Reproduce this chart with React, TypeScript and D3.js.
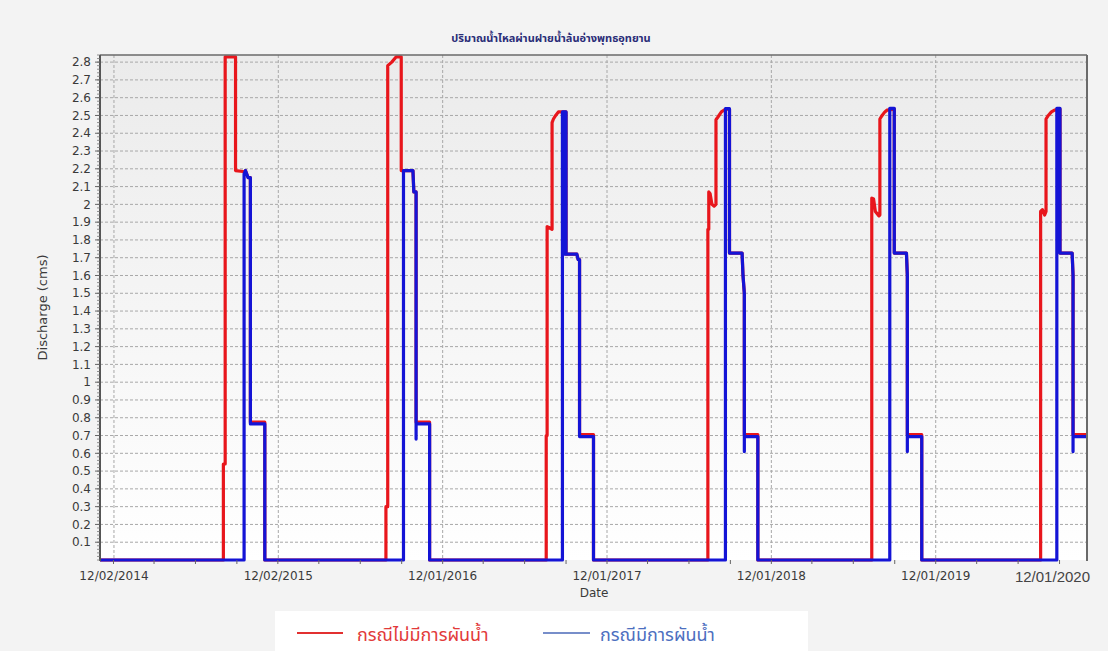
import React from "react";
import * as d3 from "d3";

const W = 1108;
const H = 651;

const titleText = "ปริมาณน้ำไหลผ่านฝายน้ำล้นอ่างพุทธอุทยาน";
const yAxisTitle = "Discharge (cms)";
const xAxisTitle = "Date";
const legendNames = ["กรณีไม่มีการผันน้ำ", "กรณีมีการผันน้ำ"];

const xTickDates = ["2014-12-02", "2015-12-02", "2016-12-01", "2017-12-01", "2018-12-01", "2019-12-01", "2020-12-01"];
const xTickLabels = ["12/02/2014", "12/02/2015", "12/01/2016", "12/01/2017", "12/01/2018", "12/01/2019", "12/01/2020"];
const xDomain = ["2014-11-01", "2020-11-01"];
const yDomain = [0, 2.84];

// Without diversion (red)
const noDiversion: [string, number][] = [
  ["2014-11-01", 0],
  ["2015-08-02", 0], ["2015-08-02", 0.54], ["2015-08-06", 0.54], ["2015-08-06", 2.83], ["2015-08-29", 2.83],
  ["2015-08-29", 2.19], ["2015-09-15", 2.185], ["2015-09-17", 2.18], ["2015-09-20", 2.19], ["2015-09-26", 2.15],
  ["2015-10-01", 2.15], ["2015-10-01", 0.775], ["2015-11-02", 0.775], ["2015-11-02", 0],
  ["2016-07-28", 0], ["2016-07-28", 0.3], ["2016-08-01", 0.3], ["2016-08-01", 2.78], ["2016-08-10", 2.8],
  ["2016-08-20", 2.83], ["2016-08-31", 2.83], ["2016-08-31", 2.19], ["2016-09-26", 2.19], ["2016-09-28", 2.07],
  ["2016-10-03", 2.07], ["2016-10-03", 0.775], ["2016-11-02", 0.775], ["2016-11-02", 0],
  ["2017-07-19", 0], ["2017-07-19", 0.7], ["2017-07-21", 0.7], ["2017-07-21", 1.875], ["2017-07-25", 1.87],
  ["2017-08-01", 1.86], ["2017-08-01", 2.46], ["2017-08-04", 2.48], ["2017-08-09", 2.5], ["2017-08-15", 2.52],
  ["2017-09-01", 2.52], ["2017-09-01", 1.72], ["2017-09-25", 1.72], ["2017-09-28", 1.69], ["2017-10-01", 1.69],
  ["2017-10-01", 0.705], ["2017-11-01", 0.705], ["2017-11-01", 0],
  ["2018-07-13", 0], ["2018-07-13", 1.86], ["2018-07-15", 1.86], ["2018-07-15", 2.07], ["2018-07-18", 2.06],
  ["2018-07-22", 2.0], ["2018-07-27", 1.99], ["2018-07-31", 2.0], ["2018-07-31", 2.476], ["2018-08-04", 2.49],
  ["2018-08-12", 2.52], ["2018-08-21", 2.535], ["2018-08-30", 2.535], ["2018-08-30", 1.726], ["2018-09-27", 1.726],
  ["2018-09-29", 1.6], ["2018-10-02", 1.5], ["2018-10-02", 0.705], ["2018-11-01", 0.705], ["2018-11-01", 0],
  ["2019-07-12", 0], ["2019-07-12", 2.035], ["2019-07-16", 2.03], ["2019-07-20", 1.96], ["2019-07-28", 1.935],
  ["2019-07-30", 1.94], ["2019-07-30", 2.48], ["2019-08-04", 2.5], ["2019-08-10", 2.52], ["2019-08-15", 2.53],
  ["2019-08-31", 2.535], ["2019-08-31", 1.726], ["2019-09-27", 1.726], ["2019-09-29", 1.6], ["2019-09-29", 0.705],
  ["2019-10-31", 0.705], ["2019-10-31", 0],
  ["2020-07-21", 0], ["2020-07-21", 1.96], ["2020-07-25", 1.97], ["2020-07-30", 1.94], ["2020-08-02", 1.96],
  ["2020-08-02", 2.48], ["2020-08-07", 2.5], ["2020-08-14", 2.52], ["2020-08-21", 2.53], ["2020-09-02", 2.535],
  ["2020-09-02", 1.726], ["2020-09-29", 1.726], ["2020-10-01", 1.6], ["2020-10-01", 0.705], ["2020-11-01", 0.705],
];

// With diversion (blue)
const withDiversion: [string, number][] = [
  ["2014-11-01", 0],
  ["2015-09-17", 0], ["2015-09-17", 2.17], ["2015-09-20", 2.19], ["2015-09-26", 2.15], ["2015-10-01", 2.15],
  ["2015-10-01", 0.765], ["2015-11-02", 0.765], ["2015-11-02", 0],
  ["2016-09-05", 0], ["2016-09-05", 2.19], ["2016-09-26", 2.19], ["2016-09-28", 2.07], ["2016-10-03", 2.07],
  ["2016-10-03", 0.68], ["2016-10-03", 0.765], ["2016-11-02", 0.765], ["2016-11-02", 0],
  ["2017-08-24", 0], ["2017-08-24", 2.52], ["2017-08-26", 2.52], ["2017-08-26", 1.72], ["2017-08-27", 1.72],
  ["2017-08-27", 2.52], ["2017-08-29", 2.52], ["2017-08-29", 1.72], ["2017-08-30", 1.72], ["2017-08-30", 2.52],
  ["2017-09-01", 2.52], ["2017-09-01", 1.72], ["2017-09-25", 1.72], ["2017-09-28", 1.69], ["2017-10-01", 1.69],
  ["2017-10-01", 0.694], ["2017-11-01", 0.694], ["2017-11-01", 0],
  ["2018-08-21", 0], ["2018-08-21", 2.538], ["2018-08-30", 2.538], ["2018-08-30", 1.726], ["2018-09-27", 1.726],
  ["2018-09-29", 1.6], ["2018-10-02", 1.5], ["2018-10-02", 0.61], ["2018-10-02", 0.694], ["2018-11-01", 0.694],
  ["2018-11-01", 0],
  ["2019-08-21", 0], ["2019-08-21", 2.54], ["2019-08-31", 2.54], ["2019-08-31", 1.726], ["2019-09-27", 1.726],
  ["2019-09-29", 1.6], ["2019-09-29", 0.61], ["2019-09-29", 0.694], ["2019-10-31", 0.694], ["2019-10-31", 0],
  ["2020-08-26", 0], ["2020-08-26", 2.54], ["2020-09-02", 2.54], ["2020-09-02", 1.726], ["2020-09-29", 1.726],
  ["2020-10-01", 1.6], ["2020-10-01", 0.61], ["2020-10-01", 0.694], ["2020-11-01", 0.694],
];

const parse = d3.timeParse("%Y-%m-%d");

export default function App() {
  const P = { left: 100, top: 55, right: 1087, bottom: 560 };
  const x = d3.scaleTime().domain(xDomain.map((s) => parse(s) as Date)).range([P.left, P.right]);
  const y = d3.scaleLinear().domain(yDomain).range([P.bottom, P.top]);

  const line = d3
    .line<[string, number]>()
    .x((d) => x(parse(d[0]) as Date))
    .y((d) => y(d[1]));

  const majorY = d3.range(1, 29).map((i) => i / 10);
  const minorY = d3.range(0, 143).map((i) => i / 50).filter((v) => v <= yDomain[1]);
  const [d0, d1] = x.domain();
  const minorX = d3.timeMonth.range(d0, d1).filter((d) => d.getMonth() % 3 === 2);

  const axisFont = "'DejaVu Sans', Verdana, sans-serif";
  const thaiFont = "'Noto Sans Thai', 'Noto Serif Thai', 'Tlwg Typist', sans-serif";

  return (
    <div style={{ width: W, height: H }}>
      <style>{`body{margin:0}`}</style>
      <svg width={W} height={H} style={{ display: "block" }}>
        <defs>
          <linearGradient id="plotbg" x1="0" y1="0" x2="0" y2="1">
            <stop offset="0" stopColor="#ebebeb" />
            <stop offset="1" stopColor="#ffffff" />
          </linearGradient>
          <clipPath id="clip">
            <rect x={P.left} y={P.top - 2} width={P.right - P.left} height={P.bottom - P.top + 4} />
          </clipPath>
        </defs>
        <rect x={0} y={0} width={W} height={H} fill="#f3f3f3" />
        <rect x={P.left} y={P.top} width={P.right - P.left} height={P.bottom - P.top} fill="url(#plotbg)" />

        {/* grid */}
        {majorY.map((v) => (
          <line key={"gy" + v} x1={P.left} x2={P.right} y1={y(v)} y2={y(v)} stroke="#a8a8a8" strokeDasharray="3,2" strokeWidth={1} />
        ))}
        {xTickDates.map((s) => {
          const xv = x(parse(s) as Date);
          if (xv > P.right) return null;
          return <line key={"gx" + s} x1={xv} x2={xv} y1={P.top} y2={P.bottom} stroke="#a8a8a8" strokeDasharray="3,2" strokeWidth={1} />;
        })}

        {/* title */}
        <text x={551} y={42} textAnchor="middle" fontFamily={thaiFont} fontSize={11} fontWeight="bold" fill="#2a2d78">
          {titleText}
        </text>

        {/* series */}
        <g clipPath="url(#clip)">
          <path d={line(noDiversion) || ""} fill="none" stroke="#e8161c" strokeWidth={3.2} strokeLinejoin="round" />
          <path d={line(withDiversion) || ""} fill="none" stroke="#1414d6" strokeWidth={3.2} strokeLinejoin="round" />
        </g>

        {/* frame */}
        <line x1={P.left} x2={P.right} y1={P.top} y2={P.top} stroke="#6a6a6a" strokeWidth={1.5} />
        <line x1={P.right} x2={P.right} y1={P.top} y2={P.bottom + 1} stroke="#6a6a6a" strokeWidth={2} />
        <line x1={P.left} x2={P.left} y1={P.top} y2={P.bottom + 1} stroke="#555" strokeWidth={2} />

        {/* y ticks */}
        {minorY.map((v, i) => (
          <line key={"my" + i} x1={P.left - 3} x2={P.left} y1={y(v)} y2={y(v)} stroke="#777" strokeWidth={0.8} />
        ))}
        {majorY.map((v) => (
          <g key={"ty" + v}>
            <line x1={P.left - 5} x2={P.left} y1={y(v)} y2={y(v)} stroke="#666" strokeWidth={1} />
            <text x={P.left - 9} y={y(v)} dy="0.35em" textAnchor="end" fontFamily={axisFont} fontSize={12} fill="#3a3a3a">
              {String(Math.round(v * 10) / 10)}
            </text>
          </g>
        ))}

        {/* x ticks */}
        {minorX.map((d, i) => (
          <line key={"mx" + i} x1={x(d)} x2={x(d)} y1={P.bottom} y2={P.bottom + 4} stroke="#666" strokeWidth={1} />
        ))}
        {xTickDates.map((s, i) => {
          const xv = x(parse(s) as Date);
          const outside = xv > P.right;
          return (
            <text
              key={"tx" + s}
              x={outside ? P.right + 3 : xv}
              y={outside ? 582 : 580}
              textAnchor={outside ? "end" : "middle"}
              fontFamily={outside ? "'Liberation Sans', Arial, sans-serif" : axisFont}
              fontSize={outside ? 15 : 12}
              fill={outside ? "#444" : "#3a3a3a"}
            >
              {xTickLabels[i]}
            </text>
          );
        })}

        {/* axis titles */}
        <text x={594} y={597} textAnchor="middle" fontFamily={axisFont} fontSize={12} fill="#3a3a3a">
          {xAxisTitle}
        </text>
        <text
          transform={`translate(47,${(P.top + P.bottom) / 2}) rotate(-90)`}
          textAnchor="middle"
          fontFamily={axisFont}
          fontSize={13}
          fill="#3a3a3a"
        >
          {yAxisTitle}
        </text>

        {/* legend */}
        <rect x={275} y={611} width={533} height={40} fill="#ffffff" />
        <line x1={297} x2={343} y1={633} y2={633} stroke="#e23030" strokeWidth={2} />
        <text x={357} y={641} fontFamily={thaiFont} fontSize={18} fill="#e23a3a">
          {legendNames[0]}
        </text>
        <line x1={543} x2={590} y1={633} y2={633} stroke="#4a69b8" strokeWidth={1.5} />
        <text x={600} y={641} fontFamily={thaiFont} fontSize={18} fill="#4d6fbf">
          {legendNames[1]}
        </text>
      </svg>
    </div>
  );
}
